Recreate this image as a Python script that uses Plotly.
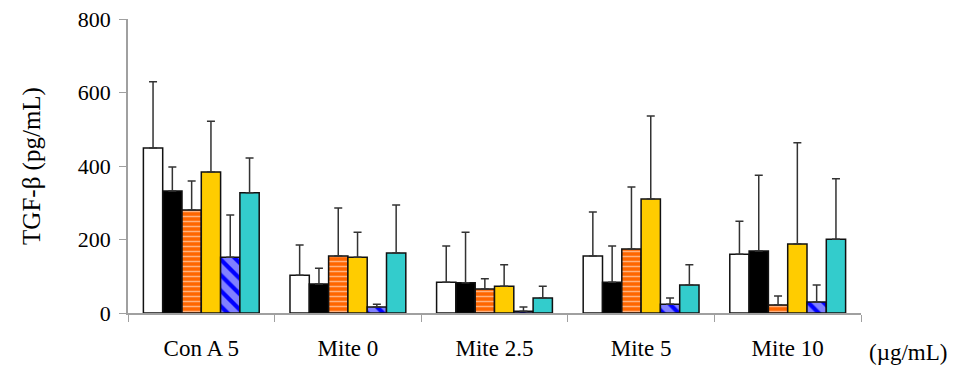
import plotly.graph_objects as go

categories = ["Con A 5", "Mite 0", "Mite 2.5", "Mite 5", "Mite 10"]
series_names = ["S1", "S2", "S3", "S4", "S5", "S6"]

# mean TGF-beta per group (pg/mL), one list per series
s1 = [449, 103, 84, 155, 160]
s2 = [332, 79, 82, 84, 169]
s3 = [280, 155, 65, 174, 22]
s4 = [384, 152, 73, 310, 188]
s5 = [152, 16, 5, 24, 30]
s6 = [327, 163, 41, 76, 201]

# upper error (SD)
e1 = [180, 82, 98, 120, 90]
e2 = [65, 43, 138, 98, 206]
e3 = [79, 131, 28, 169, 24]
e4 = [138, 68, 58, 226, 275]
e5 = [115, 8, 11, 17, 46]
e6 = [95, 131, 32, 55, 164]

values = [s1, s2, s3, s4, s5, s6]
errors = [e1, e2, e3, e4, e5, e6]

styles = [
    dict(color="white"),
    dict(color="black"),
    # orange fill with thin white horizontal lines
    dict(color="#FF6600", pattern=dict(shape="-", fgcolor="white", bgcolor="#FF6600",
                                       size=5, solidity=0.3, fillmode="overlay")),
    dict(color="#FFCC00"),
    # blue fill cut by white diagonal stripes of similar width
    dict(color="#0000FF", pattern=dict(shape="\\", fgcolor="white", bgcolor="#0000FF",
                                       size=11, solidity=0.62, fillmode="overlay")),
    dict(color="#33CCCC"),
]

serif = "Liberation Serif"

fig = go.Figure()
for name, vals, errs, st in zip(series_names, values, errors, styles):
    marker = dict(line=dict(color="#111111", width=1.5), **st)
    fig.add_trace(go.Bar(
        x=categories, y=vals, name=name, marker=marker,
        error_y=dict(type="data", symmetric=False, array=errs,
                     arrayminus=[0] * len(errs), color="#333333",
                     thickness=1.5, width=4),
    ))

fig.update_layout(
    barmode="group", bargap=0.21, bargroupgap=0,
    width=957, height=369,
    margin=dict(l=128, r=96, t=19, b=56),
    paper_bgcolor="white", plot_bgcolor="white",
    showlegend=False,
    font=dict(family=serif, size=23, color="black"),
    xaxis=dict(showline=True, linecolor="#A0A0A0", linewidth=1.5,
               ticks="outside", tickson="boundaries", ticklen=7,
               tickcolor="#A0A0A0", showgrid=False, ticklabelstandoff=14,
               automargin=False,
               tickfont=dict(family=serif, size=23)),
    yaxis=dict(range=[0, 800], tickvals=[0, 200, 400, 600, 800],
               showline=True, linecolor="#A0A0A0", linewidth=1.5,
               ticks="outside", ticklen=7, tickcolor="#A0A0A0",
               showgrid=False, zeroline=False, ticklabelstandoff=4,
               automargin=False,
               tickfont=dict(family=serif, size=22),
               title=dict(text="TGF-β (pg/mL)", standoff=30,
                          font=dict(family=serif, size=25))),
)

fig.add_annotation(text="(µg/mL)", xref="paper", yref="paper",
                   x=1.0, y=0, xanchor="left", yanchor="middle",
                   xshift=6, yshift=-39, showarrow=False,
                   font=dict(family=serif, size=23))

fig.write_html("out.html")
